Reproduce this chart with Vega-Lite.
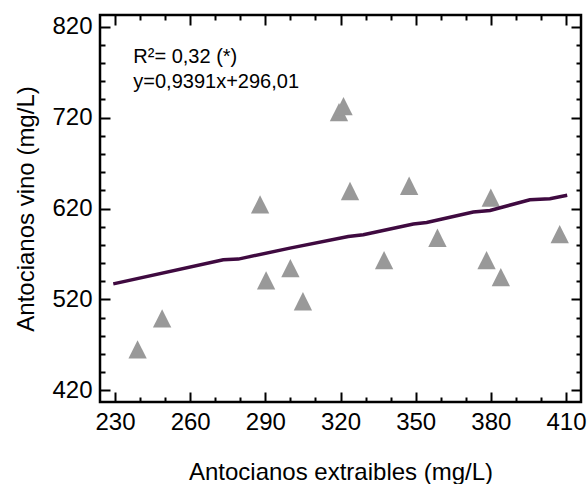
{
  "$schema": "https://vega.github.io/schema/vega-lite/v6.json",
  "width": 481,
  "height": 387,
  "autosize": "none",
  "padding": {"left": 100, "top": 15, "right": 7, "bottom": 82},
  "config": {
    "view": {"stroke": "black", "strokeWidth": 2.5},
    "font": "Liberation Sans",
    "axis": {
      "domain": false,
      "grid": false,
      "tickColor": "black",
      "tickWidth": 2,
      "labelFont": "Liberation Sans",
      "labelFontSize": 24,
      "labelColor": "black",
      "labelFlush": false,
      "labelOverlap": false,
      "titleFont": "Liberation Sans",
      "titleFontSize": 24,
      "titleFontWeight": "normal",
      "titleColor": "black"
    }
  },
  "datasets": {
    "pts": [
      {"ext": 239.0, "vino": 465.0},
      {"ext": 248.8, "vino": 499.1},
      {"ext": 287.9, "vino": 624.5},
      {"ext": 290.3, "vino": 540.9},
      {"ext": 300.0, "vino": 554.3},
      {"ext": 305.0, "vino": 517.9},
      {"ext": 319.4, "vino": 726.1},
      {"ext": 321.2, "vino": 732.7},
      {"ext": 323.8, "vino": 639.3},
      {"ext": 337.4, "vino": 563.1},
      {"ext": 347.4, "vino": 645.0},
      {"ext": 358.7, "vino": 587.8},
      {"ext": 378.3, "vino": 563.1},
      {"ext": 380.0, "vino": 631.9},
      {"ext": 384.0, "vino": 544.5},
      {"ext": 407.5, "vino": 591.8}
    ],
    "fit": [
      {"ext": 229.3, "vino": 537.0},
      {"ext": 273.2, "vino": 563.5},
      {"ext": 279.2, "vino": 564.3},
      {"ext": 299.8, "vino": 576.4},
      {"ext": 323.1, "vino": 589.2},
      {"ext": 329.1, "vino": 591.1},
      {"ext": 349.1, "vino": 602.9},
      {"ext": 354.4, "vino": 604.7},
      {"ext": 373.0, "vino": 616.1},
      {"ext": 379.7, "vino": 617.8},
      {"ext": 395.6, "vino": 629.7},
      {"ext": 403.6, "vino": 630.8},
      {"ext": 410.5, "vino": 634.5}
    ],
    "notes": [
      {"ext": 237.3, "vino": 779.8, "label": "R²= 0,32 (*)"},
      {"ext": 237.3, "vino": 753.0, "label": "y=0,9391x+296,01"}
    ]
  },
  "layer": [
    {
      "data": {"name": "pts"},
      "mark": {"type": "point", "shape": "M0,-1L1,1L-1,1Z", "filled": true, "color": "#999999", "opacity": 1, "size": 336, "strokeWidth": 0},
      "encoding": {
        "x": {"field": "ext", "type": "quantitative", "scale": {"domain": [224, 416], "nice": false, "zero": false},
          "axis": {"orient": "bottom", "values": [230, 260, 290, 320, 350, 380, 410], "tickSize": -10, "labelPadding": 18, "title": "Antocianos extraibles (mg/L)", "titlePadding": 26}},
        "y": {"field": "vino", "type": "quantitative", "scale": {"domain": [407, 833], "nice": false, "zero": false},
          "axis": {"orient": "left", "values": [420, 520, 620, 720, 820], "tickSize": -10, "labelPadding": 18, "title": "Antocianos vino (mg/L)", "titlePadding": 13}}
      }
    },
    {
      "data": {"name": "fit"},
      "mark": {"type": "line", "color": "#3f0a40", "strokeWidth": 3.5},
      "encoding": {
        "x": {"field": "ext", "type": "quantitative", "scale": {"domain": [224, 416], "nice": false, "zero": false},
          "axis": {"orient": "top", "values": [230, 260, 290, 320, 350, 380, 410], "tickSize": -10, "labels": false, "title": null}},
        "y": {"field": "vino", "type": "quantitative", "scale": {"domain": [407, 833], "nice": false, "zero": false},
          "axis": {"orient": "right", "values": [420, 520, 620, 720, 820], "tickSize": -10, "labels": false, "title": null}}
      }
    },
    {
      "data": {"name": "fit"},
      "mark": {"type": "line", "strokeOpacity": 0},
      "encoding": {
        "x": {"field": "ext", "type": "quantitative",
          "axis": {"orient": "bottom", "values": [240, 250, 270, 280, 300, 310, 330, 340, 360, 370, 390, 400], "tickSize": -5, "labels": false, "title": null}},
        "y": {"field": "vino", "type": "quantitative",
          "axis": {"orient": "left", "values": [440, 460, 480, 500, 540, 560, 580, 600, 640, 660, 680, 700, 740, 760, 780, 800], "tickSize": -5, "labels": false, "title": null}}
      }
    },
    {
      "data": {"name": "fit"},
      "mark": {"type": "line", "strokeOpacity": 0},
      "encoding": {
        "x": {"field": "ext", "type": "quantitative",
          "axis": {"orient": "top", "values": [240, 250, 270, 280, 300, 310, 330, 340, 360, 370, 390, 400], "tickSize": -5, "labels": false, "title": null}},
        "y": {"field": "vino", "type": "quantitative",
          "axis": {"orient": "right", "values": [440, 460, 480, 500, 540, 560, 580, 600, 640, 660, 680, 700, 740, 760, 780, 800], "tickSize": -5, "labels": false, "title": null}}
      }
    },
    {
      "data": {"name": "notes"},
      "mark": {"type": "text", "align": "left", "baseline": "alphabetic", "fontSize": 20, "font": "Liberation Sans", "color": "black"},
      "encoding": {
        "x": {"field": "ext", "type": "quantitative", "axis": null},
        "y": {"field": "vino", "type": "quantitative", "axis": null},
        "text": {"field": "label"}
      }
    }
  ],
  "resolve": {"axis": {"x": "independent", "y": "independent"}}
}
